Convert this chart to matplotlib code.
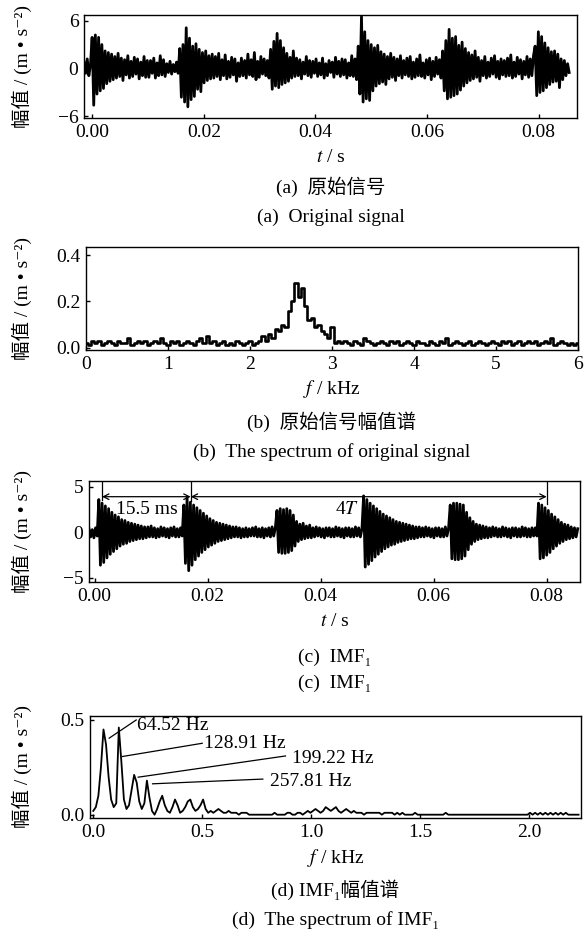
import numpy as np
import matplotlib
matplotlib.use('Agg')
import matplotlib.pyplot as plt

plt.rcParams['font.family'] = ['Liberation Serif', 'Noto Sans CJK SC', 'DejaVu Sans']
plt.rcParams['mathtext.fontset'] = 'stix'
plt.rcParams['font.size'] = 14
plt.rcParams['axes.linewidth'] = 1.0
plt.rcParams['xtick.direction'] = 'in'
plt.rcParams['ytick.direction'] = 'in'

# (a) senal original, m/s^2
senal_original = [
    0.8, -0.6, 1.2, -0.9, 0.5, 3.9, -4.6, 4.2, -3.2, 3.9, -2.8, 3.0, -2.5, 2.2, -1.9, 2.0, -1.6, 1.8, -1.4, 1.5,
    -1.2, 1.9, -1.0, 1.3, -1.5, 1.1, -0.8, 1.6, -1.2, 0.9, -1.0, 1.4, -0.7, 1.2, -1.3, 0.8, -0.9, 1.5, -1.1, 1.0,
    -1.1, 1.0, -0.6, 1.3, -1.2, 0.7, -0.9, 1.6, -0.8, 1.1, -1.0, 0.6, -0.5, 0.9, -0.7, 0.5, -0.4, 0.8, -0.6, 2.5,
    -3.6, 3.0, -4.2, 5.1, -4.8, 3.8, -3.9, 2.8, -3.5, 3.1, -2.6, 2.4, -2.9, 2.0, -1.8, 2.2, -1.5, 1.6, -1.3, 1.8,
    -1.2, 1.5, -1.0, 1.9, -1.4, 1.1, -0.9, 1.7, -1.3, 0.9, -1.1, 1.4, -0.8, 1.2, -1.6, 0.7, -1.0, 1.3, -0.9, 1.0,
    -1.2, 1.8, -0.8, 1.1, -1.0, 2.0, -1.4, 0.9, -1.1, 1.5, -0.7, 1.2, -0.9, 1.0, -1.2, 2.4, -2.6, 3.4, -2.2, 4.4,
    -2.4, 3.5, -2.0, 2.6, -1.8, 1.9, -1.6, 1.4, -1.2, 2.2, -1.0, 1.3, -0.9, 1.1, -1.3, 0.8, -0.7, 1.5, -0.9, 1.0,
    -1.1, 0.9, -0.6, 1.2, -1.0, 0.7, -0.8, 1.3, -1.2, 0.6, -0.9, 1.0, -0.5, 0.8, -1.1, 1.4, -0.7, 0.9, -1.0, 1.2,
    -0.8, 1.1, -1.2, 0.7, -0.9, 1.6, -1.0, 1.2, -1.4, 2.8, -3.2, 6.5, -4.2, 4.6, -3.8, 3.5, -4.0, 3.0, -2.8, 2.6,
    -2.2, 2.9, -1.9, 2.1, -1.7, 1.8, -2.0, 1.5, -1.3, 1.9, -1.1, 1.4, -1.5, 1.2, -0.9, 1.6, -1.2, 1.0, -0.8, 1.3,
    -1.0, 1.5, -1.3, 0.8, -1.1, 1.2, -0.9, 1.7, -1.0, 0.7, -1.2, 1.1, -0.8, 1.3, -1.4, 0.9, -1.0, 1.4, -0.7, 1.1,
    -1.2, 2.2, -2.8, 3.5, -3.8, 4.9, -3.6, 3.8, -3.4, 4.0, -3.2, 2.9, -2.7, 3.3, -2.2, 2.5, -1.8, 2.0, -1.5, 1.7,
    -1.3, 2.2, -1.1, 1.4, -1.6, 1.0, -0.9, 1.5, -1.2, 0.8, -1.0, 1.3, -0.7, 1.6, -1.1, 0.9, -1.3, 1.2, -0.8, 1.0,
    -1.0, 1.3, -0.9, 1.7, -1.2, 0.8, -1.0, 1.4, -0.7, 1.1, -1.3, 0.9, -0.8, 1.5, -1.1, 1.2, -0.9, 1.6, 2.8, -3.4,
    4.6, -3.0, 4.0, -2.8, 3.2, -2.4, 2.6, -2.0, 2.1, -1.7, 2.2, -1.6, 1.8, -2.4, 1.2, -1.4, 1.0, -0.9, 0.6, -0.5,
]
t_ini_a, t_fin_a = -0.0015, 0.0855

# (b) espectro de la senal original, 0-6 kHz
espectro_original = [
    0.02, 0.01, 0.03, 0.02, 0.03, 0.01, 0.02, 0.03, 0.02, 0.01, 0.03, 0.02, 0.02, 0.04, 0.01, 0.02, 0.03, 0.02, 0.03, 0.01,
    0.02, 0.03, 0.02, 0.04, 0.02, 0.01, 0.03, 0.02, 0.03, 0.01, 0.02, 0.03, 0.02, 0.01, 0.03, 0.04, 0.02, 0.05, 0.02, 0.03,
    0.01, 0.02, 0.03, 0.01, 0.02, 0.01, 0.03, 0.02, 0.01, 0.02, 0.03, 0.01, 0.02, 0.03, 0.05, 0.03, 0.06, 0.04, 0.08, 0.07,
    0.10, 0.09, 0.16, 0.20, 0.28, 0.22, 0.26, 0.18, 0.12, 0.13, 0.09, 0.10, 0.07, 0.06, 0.04, 0.09, 0.02, 0.03, 0.02, 0.03,
    0.02, 0.01, 0.03, 0.02, 0.01, 0.04, 0.03, 0.02, 0.01, 0.02, 0.03, 0.02, 0.01, 0.03, 0.02, 0.03, 0.01, 0.02, 0.03, 0.02,
    0.01, 0.03, 0.02, 0.02, 0.01, 0.03, 0.02, 0.01, 0.03, 0.02, 0.04, 0.01, 0.02, 0.03, 0.02, 0.01, 0.02, 0.03, 0.01, 0.02,
    0.03, 0.02, 0.01, 0.02, 0.03, 0.02, 0.01, 0.03, 0.02, 0.03, 0.01, 0.02, 0.03, 0.01, 0.02, 0.03, 0.02, 0.03, 0.01, 0.02,
    0.03, 0.02, 0.04, 0.01, 0.02, 0.03, 0.02, 0.01, 0.02, 0.01, 0.02,
]
f_fin_b = 6.0

# (c) IMF1
senal_imf1 = [
    0.4, -0.5, 0.3, -0.6, 0.5, -0.4, 3.6, -3.6, 3.2, -3.3, 2.9, -2.8, 2.6, -2.4, 2.2, -2.1, 1.9, -1.8, 1.7, -1.5,
    1.4, -1.3, 1.3, -1.2, 1.1, -1.0, 1.0, -0.9, 0.9, -0.8, 0.8, -0.7, 0.7, -0.7, 0.6, -0.6, 0.6, -0.5, 0.7, -0.5,
    0.5, -0.6, 0.4, -0.5, 0.6, -0.4, 0.5, -0.5, 0.4, -0.6, 0.5, -0.4, 0.6, -0.5, 0.4, -0.5, 0.5, -0.4, 3.0, -3.4,
    3.8, -4.2, 3.3, -3.6, 3.0, -3.0, 2.7, -2.6, 2.4, -2.2, 2.1, -1.9, 1.8, -1.6, 1.5, -1.4, 1.3, -1.2, 1.1, -1.0,
    1.0, -0.9, 0.9, -0.8, 0.8, -0.7, 0.7, -0.6, 0.6, -0.5, 0.6, -0.5, 0.5, -0.6, 0.4, -0.5, 0.5, -0.5, 0.4, -0.4,
    0.5, -0.4, 0.6, -0.5, 0.4, -0.5, 0.5, -0.6, 0.4, -0.4, 0.5, -0.5, 0.6, -0.4, 0.5, 2.4, -2.2, 2.6, -2.3, 2.5,
    -2.3, 2.6, -2.2, 2.4, -2.0, 1.9, -1.5, 1.2, -1.0, 0.9, -0.8, 1.0, -0.7, 0.7, -0.6, 0.8, -0.6, 0.5, -0.5, 0.6,
    -0.4, 0.5, -0.5, 0.4, -0.6, 0.5, -0.4, 0.5, -0.5, 0.4, -0.5, 0.6, -0.4, 0.5, -0.5, 0.4, -0.6, 0.5, -0.4, 0.5,
    -0.5, 0.4, -0.5, 0.6, -0.4, 0.5, -0.5, 0.4, 4.0, -3.8, 3.6, -3.5, 3.2, -3.1, 2.9, -2.7, 2.6, -2.4, 2.3, -2.1,
    2.0, -1.8, 1.8, -1.6, 1.6, -1.4, 1.4, -1.3, 1.2, -1.1, 1.1, -1.0, 1.0, -0.9, 0.9, -0.8, 0.8, -0.7, 0.7, -0.7,
    0.6, -0.6, 0.6, -0.5, 0.5, -0.5, 0.6, -0.4, 0.5, -0.5, 0.4, -0.6, 0.5, -0.4, 0.5, -0.5, 0.4, -0.5, 0.6, -0.4,
    0.5, 3.0, -2.9, 3.2, -3.0, 3.2, -3.0, 3.1, -2.9, 3.0, -2.6, 2.2, -1.9, 1.6, -1.3, 1.2, -1.0, 0.9, -0.8, 0.8,
    -0.7, 0.7, -0.6, 0.6, -0.6, 0.5, -0.5, 0.6, -0.4, 0.5, -0.5, 0.4, -0.5, 0.6, -0.4, 0.5, -0.5, 0.4, -0.6, 0.5,
    -0.4, 0.5, -0.5, 0.4, -0.5, 0.6, -0.4, 0.5, -0.5, 0.4, -0.5, 0.5, -0.4, 0.5, -0.4, 3.2, -2.9, 3.0, -2.8, 2.7,
    -2.5, 2.4, -2.2, 2.0, -1.8, 1.7, -1.5, 1.4, -1.2, 1.1, -1.0, 0.9, -0.8, 0.8, -0.7, 0.6, -0.6, 0.5, -0.5, 0.4,
]
t_ini_c, t_fin_c = -0.001, 0.0855
marcas_periodo = [0.0013, 0.0170, 0.0800]   # s
altura_marcas = [3.6, 3.4, 3.1]

# (d) espectro de IMF1, paso 11.72 Hz
espectro_imf1 = [
    0.02, 0.04, 0.10, 0.25, 0.45, 0.37, 0.20, 0.08, 0.04, 0.06, 0.46, 0.28, 0.08, 0.03, 0.05, 0.13, 0.21, 0.17, 0.07, 0.03,
    0.06, 0.18, 0.09, 0.02, 0.00, 0.03, 0.07, 0.10, 0.05, 0.02, 0.01, 0.04, 0.08, 0.05, 0.01, 0.02, 0.04, 0.07, 0.08, 0.04,
    0.02, 0.03, 0.05, 0.08, 0.03, 0.01, 0.02, 0.01, 0.02, 0.03, 0.02, 0.01, 0.01, 0.02, 0.01, 0.01, 0.01, 0.00, 0.01, 0.01,
    0.01, 0.00, 0.00, 0.00, 0.00, 0.00, 0.00, 0.00, 0.00, 0.00, 0.00, 0.01, 0.00, 0.00, 0.00, 0.00, 0.01, 0.01, 0.00, 0.00,
    0.01, 0.01, 0.00, 0.01, 0.02, 0.01, 0.02, 0.03, 0.02, 0.01, 0.02, 0.04, 0.03, 0.02, 0.03, 0.04, 0.02, 0.01, 0.02, 0.03,
    0.02, 0.01, 0.02, 0.01, 0.01, 0.01, 0.00, 0.01, 0.01, 0.01, 0.01, 0.01, 0.01, 0.00, 0.01, 0.01, 0.01, 0.01, 0.00, 0.01,
    0.00, 0.01, 0.00, 0.00, 0.00, 0.00, 0.01, 0.00, 0.00, 0.00, 0.00, 0.00, 0.00, 0.00, 0.00, 0.00, 0.00, 0.00, 0.01, 0.00,
    0.00, 0.00, 0.00, 0.00, 0.00, 0.00, 0.00, 0.00, 0.00, 0.00, 0.00, 0.00, 0.00, 0.00, 0.00, 0.00, 0.00, 0.00, 0.00, 0.00,
    0.00, 0.00, 0.00, 0.00, 0.00, 0.00, 0.00, 0.00, 0.00, 0.00, 0.00, 0.01, 0.00, 0.01, 0.00, 0.01, 0.00, 0.01, 0.00, 0.01,
    0.00, 0.01, 0.00, 0.01, 0.00, 0.01, 0.00, 0.00, 0.00, 0.00, 0.00,
]
paso_d = 0.01172   # kHz
picos_d = ['64.52 Hz', '128.91 Hz', '199.22 Hz', '257.81 Hz']
picos_xy = [(0.073, 0.404), (0.133, 0.307), (0.206, 0.198), (0.272, 0.163)]
picos_fin = [(0.197, 0.50), (0.50, 0.377), (0.882, 0.31), (0.778, 0.188)]
picos_texto = [(0.20, 0.47), (0.51, 0.377), (0.91, 0.298), (0.812, 0.175)]

etiqueta_y = '幅值 / (m • s⁻²)'

W, H = 588, 943
fig = plt.figure(figsize=(W / 100, H / 100), dpi=100)


def caja(izq, arriba, der, abajo):
    ax = fig.add_axes([izq / W, 1 - abajo / H, (der - izq) / W, (abajo - arriba) / H])
    ax.tick_params(length=3, width=1.0, pad=4, labelsize=14)
    fig.text(22 / W, 1 - (arriba + abajo) / 2 / H, etiqueta_y, rotation=90,
             ha='center', va='center', fontsize=14)
    return ax


def textos(izq, der, ys, lineas):
    xc = (izq + der) / 2 / W
    for y, s in zip(ys, lineas):
        fig.text(xc, 1 - y / H, s, ha='center', va='center', fontsize=14)


# ---- (a)
ax1 = caja(84, 15, 577, 118)
t_a = np.linspace(t_ini_a, t_fin_a, len(senal_original))
ax1.plot(t_a, senal_original, color='k', lw=2.0)
ax1.set_xlim(-0.0015, 0.0869)
ax1.set_ylim(-6.2, 6.7)
ax1.set_xticks([0, 0.02, 0.04, 0.06, 0.08])
ax1.set_xticklabels(['0.00', '0.02', '0.04', '0.06', '0.08'])
ax1.set_yticks([-6, 0, 6])
ax1.set_yticklabels(['−6', '0', '6'])
textos(84, 577, [158, 187, 217], ['$t$ / s', '(a)  原始信号', '(a)  Original signal'])

# ---- (b)
ax2 = caja(86, 247, 578, 350)
f_b = np.linspace(0, f_fin_b, len(espectro_original))
ax2.plot(f_b, espectro_original, color='k', lw=1.9, drawstyle='steps-mid')
ax2.set_xlim(0, 6)
ax2.set_ylim(-0.01, 0.435)
ax2.set_xticks(range(7))
ax2.set_yticks([0, 0.2, 0.4])
ax2.set_yticklabels(['0.0', '0.2', '0.4'])
textos(86, 578, [389, 422, 452], ['$f$ / kHz', '(b)  原始信号幅值谱', '(b)  The spectrum of original signal'])

# ---- (c)
ax3 = caja(89, 481, 580, 582)
t_c = np.linspace(t_ini_c, t_fin_c, len(senal_imf1))
ax3.plot(t_c, senal_imf1, color='k', lw=2.0)
ax3.set_xlim(-0.001, 0.0859)
ax3.set_ylim(-5.44, 5.63)
ax3.set_xticks([0, 0.02, 0.04, 0.06, 0.08])
ax3.set_xticklabels(['0.00', '0.02', '0.04', '0.06', '0.08'])
ax3.set_yticks([-5, 0, 5])
ax3.set_yticklabels(['−5', '0', '5'])
for xm, ym in zip(marcas_periodo, altura_marcas):
    ax3.plot([xm, xm], [ym, 5.63], color='k', lw=0.9)
y_flecha = 3.91
ax3.annotate('', xy=(marcas_periodo[1], y_flecha), xytext=(marcas_periodo[0], y_flecha),
             arrowprops=dict(arrowstyle='<->', color='k', lw=0.9, mutation_scale=10, shrinkA=0, shrinkB=0))
ax3.annotate('', xy=(marcas_periodo[2], y_flecha), xytext=(marcas_periodo[1], y_flecha),
             arrowprops=dict(arrowstyle='<->', color='k', lw=0.9, mutation_scale=10, shrinkA=0, shrinkB=0))
ax3.text(0.0093, 2.5, '15.5 ms', ha='center', va='center', fontsize=14)
ax3.text(0.0446, 2.5, '4$T$', ha='center', va='center', fontsize=14)
textos(89, 580, [621, 657, 683], ['$t$ / s', '(c)  IMF₁', '(c)  IMF₁'])

# ---- (d)
ax4 = caja(90, 716, 581, 818)
f_d = np.arange(len(espectro_imf1)) * paso_d
ax4.plot(f_d, espectro_imf1, color='k', lw=1.3)
ax4.set_xlim(-0.015, 2.238)
ax4.set_ylim(-0.0175, 0.521)
ax4.set_xticks([0, 0.5, 1.0, 1.5, 2.0])
ax4.set_xticklabels(['0.0', '0.5', '1.0', '1.5', '2.0'])
ax4.set_yticks([0, 0.5])
ax4.set_yticklabels(['0.0', '0.5'])
for etq, xy, fin, pt in zip(picos_d, picos_xy, picos_fin, picos_texto):
    ax4.plot([xy[0], fin[0]], [xy[1], fin[1]], color='k', lw=0.9)
    ax4.text(pt[0], pt[1], etq, ha='left', va='center', fontsize=14)
textos(90, 581, [858, 890, 920], ['$f$ / kHz', '(d) IMF₁幅值谱', '(d)  The spectrum of IMF₁'])

fig.savefig('out.png', dpi=100)
